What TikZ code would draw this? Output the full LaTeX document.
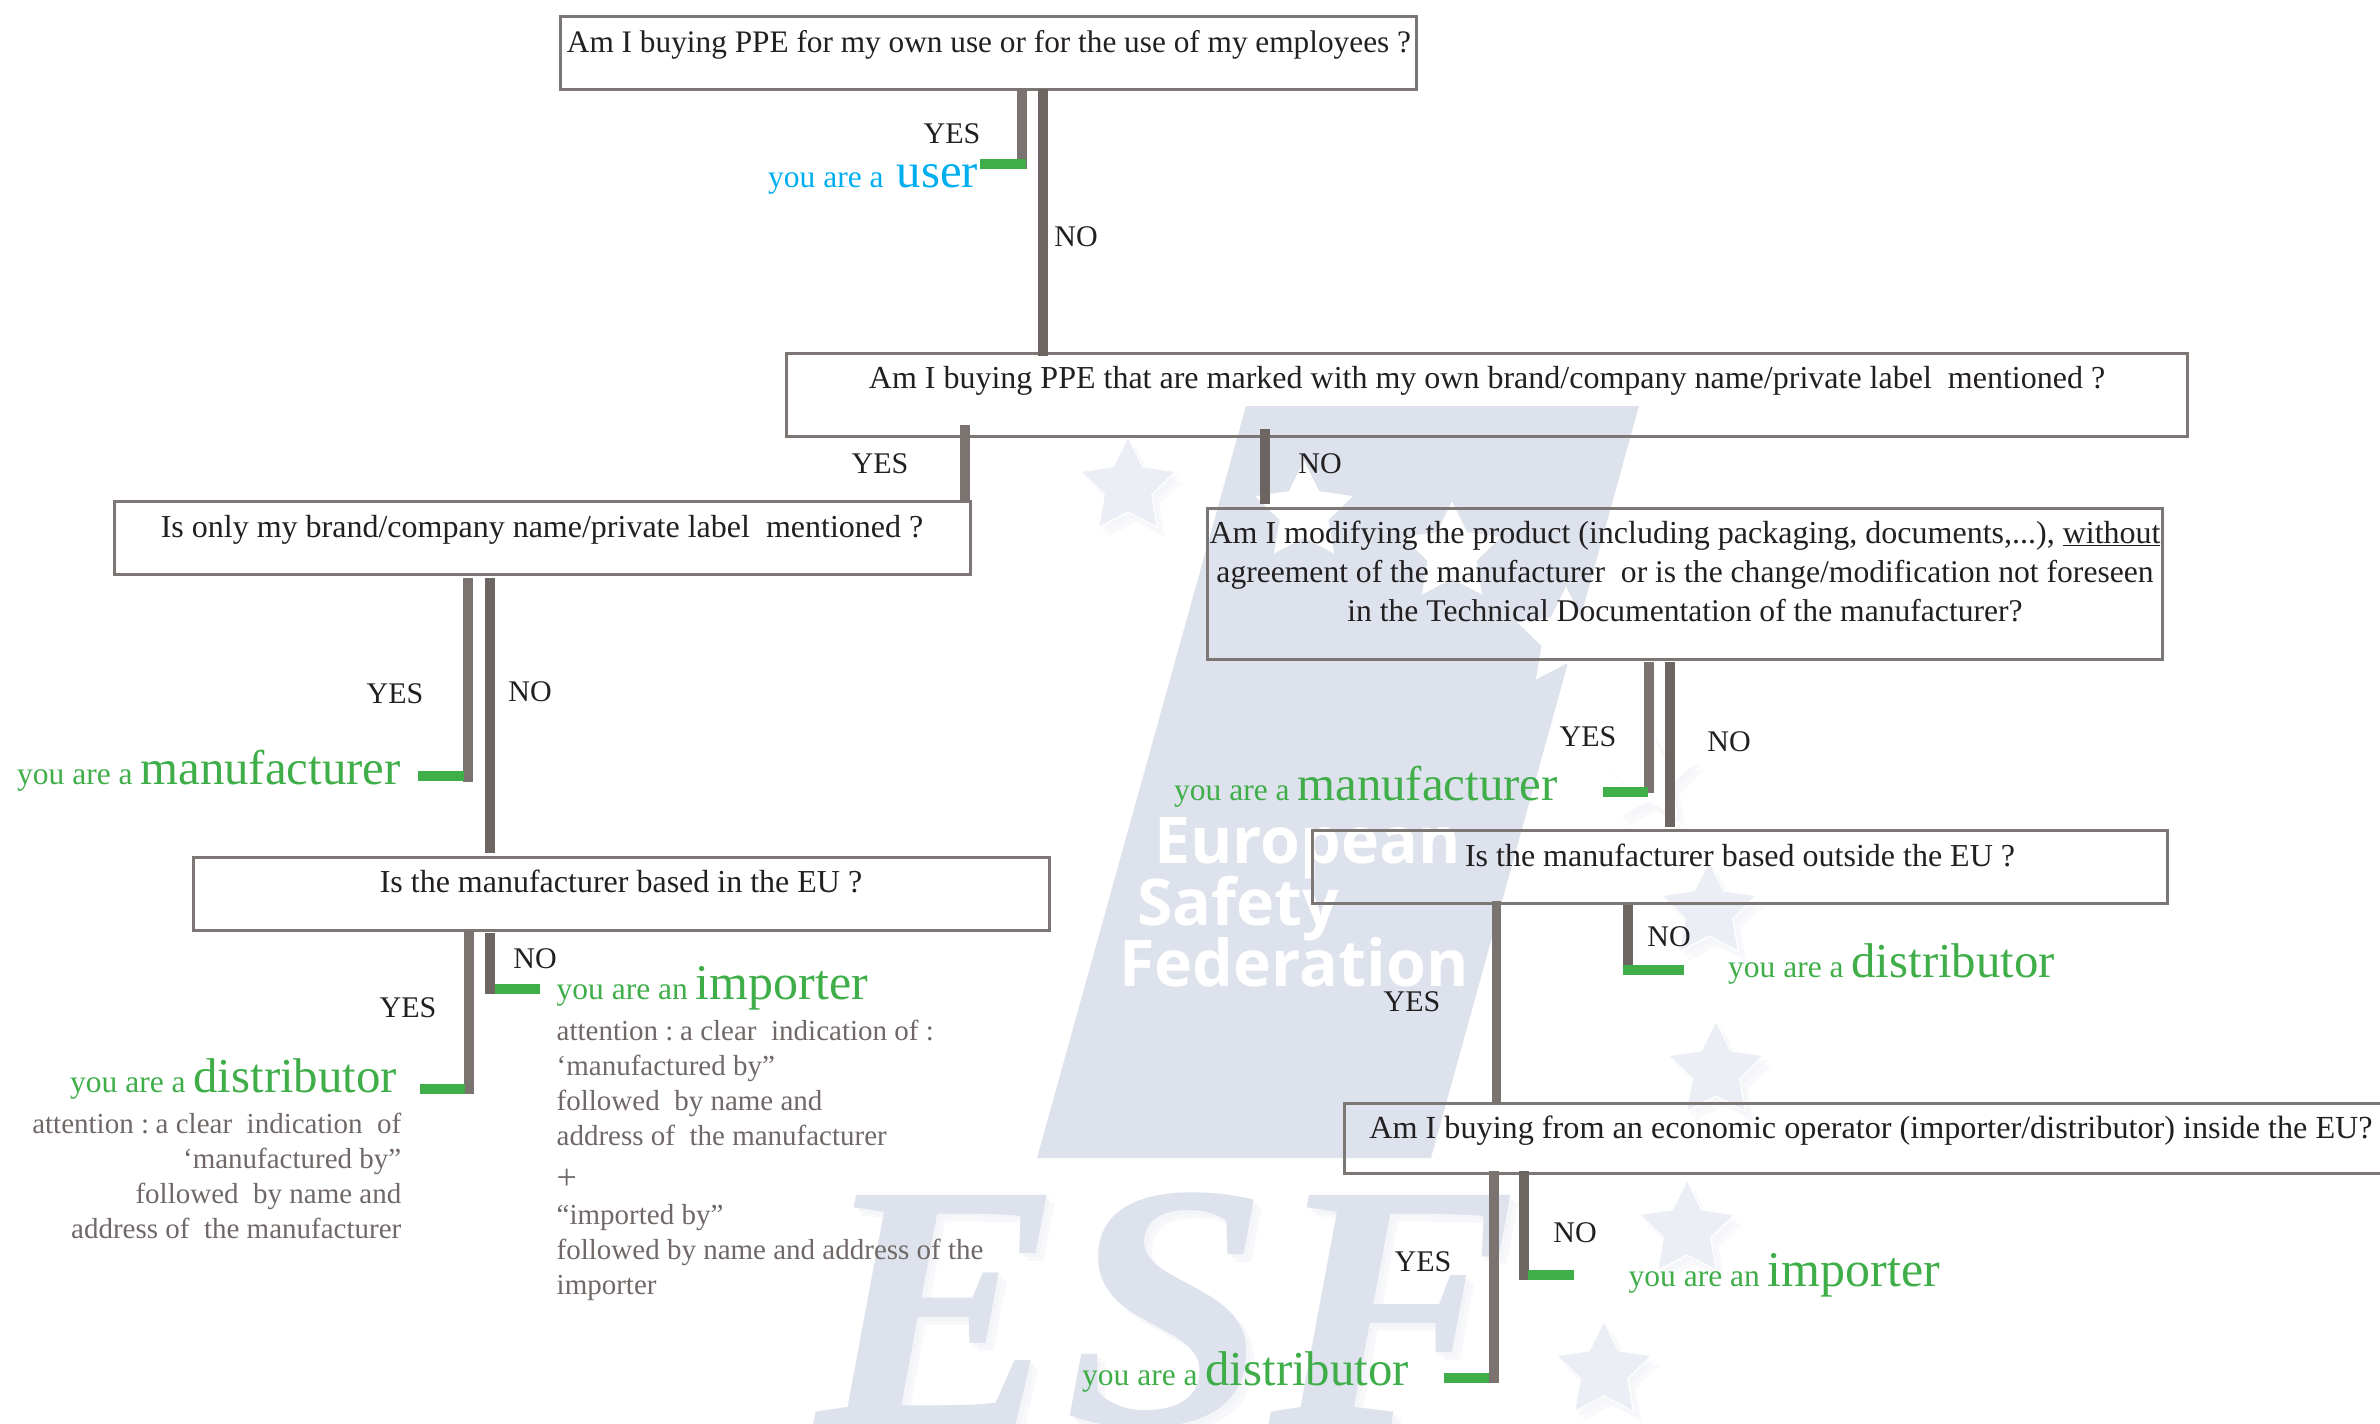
\documentclass[tikz,border=0pt]{standalone}
\usepackage{fontspec}
\usepackage{graphicx}
\usetikzlibrary{shapes.geometric}
\setmainfont{Liberation Serif}
\newfontfamily\wmfont{Open Sans}
\definecolor{wm}{HTML}{DDE2EC}
\definecolor{wmstar}{HTML}{ECEEF5}
\definecolor{wmshadow}{HTML}{F1F2F7}
\definecolor{boxline}{HTML}{7C7674}
\definecolor{yesgray}{HTML}{7B7370}
\definecolor{nogray}{HTML}{6C6562}
\definecolor{stubgreen}{HTML}{3FAE49}
\definecolor{resgreen}{HTML}{3FAE49}
\definecolor{resblue}{HTML}{00AEEF}
\definecolor{notegray}{HTML}{6F6866}
\definecolor{ink}{HTML}{231F20}
\tikzset{
  qbox/.style={draw=boxline,line width=3pt,anchor=north west,inner sep=0pt,outer sep=0pt},
  qtext/.style={anchor=base,inner sep=0pt,text=ink,font=\fontsize{32}{39}\selectfont},
  yn/.style={anchor=base,inner sep=0pt,text=ink,font=\fontsize{30}{36}\selectfont},
  res/.style={anchor=base west,inner sep=0pt,text=resgreen,font=\fontsize{31.5}{36}\selectfont},
  note/.style={inner sep=0pt,text=notegray,font=\fontsize{29}{35}\selectfont},
  yesbar/.style={draw=yesgray,line width=9.5pt},
  nobar/.style={draw=nogray,line width=10pt},
  stub/.style={draw=stubgreen,line width=10pt},
  wmstarnode/.style={star,star points=5,star point ratio=2.0,minimum size=100pt,inner sep=0pt,fill=#1,draw=white,line width=1.2pt},
  wmshade/.style={star,star points=5,star point ratio=2.0,minimum size=100pt,inner sep=0pt,fill=wmshadow,opacity=.45},
  esftext/.style={anchor=base west,inner sep=0pt,font=\bfseries\itshape\fontsize{350}{350}\selectfont},
  wmtext/.style={anchor=base west,inner sep=0pt,text=white,font=\wmfont\bfseries\fontsize{64.5}{66}\selectfont},
}
\newcommand{\rbig}[1]{{\fontsize{48.8}{52}\selectfont #1}}
\newcommand{\rimp}[1]{{\fontsize{50}{52}\selectfont #1}}
\begin{document}
\begin{tikzpicture}[x=1pt,y=-1pt]
\useasboundingbox (0,0) rectangle (2380,1424);
\clip (0,0) rectangle (2380,1424);
% --- watermark ---
\fill[wm] (1246,406) -- (1639,406) -- (1431,1158) -- (1037,1158) -- cycle;
\node[esftext,text=wmshadow,opacity=.5] (esfs) at (824,1432) {\scalebox{1.06}[1]{ESF}};
\node[esftext,text=wmshadow,opacity=.6] (esft) at (820,1428) {\scalebox{1.06}[1]{ESF}};
\node[esftext,text=wm] (esf) at (816,1424) {\scalebox{1.06}[1]{ESF}};
\foreach \n/\x/\y in {a/1128/487,f/1709/911,g/1716/1071,h/1687/1230,i/1604/1371,e/1648/776}{
  \node[wmshade,name=shb\n] at (\x+8,\y+10) {};
  \node[wmshade,name=sha\n] at (\x+4,\y+5) {};
}
\foreach \n/\x/\y in {a/1128/487,f/1709/911,g/1716/1071,h/1687/1230,i/1604/1371}{
  \node[wmstarnode=wmstar,name=st\n] at (\x,\y) {};
}
\foreach \n/\x/\y in {b/1304/512,c/1452/553,d/1566/638,e/1648/776}{
  \node[wmstarnode=white,name=st\n] at (\x,\y) {};
}
\node[wmtext] (eu1) at (1154,863) {European};
\node[wmtext] (eu2) at (1137,925) {Safety};
\node[wmtext] (eu3) at (1119,986) {Federation};
% --- question boxes ---
\node[qbox,minimum width=856pt,minimum height=73pt] (b1) at (560,16) {};
\node[qbox,minimum width=1401pt,minimum height=83pt] (b2) at (786,353) {};
\node[qbox,minimum width=856pt,minimum height=73pt] (b3) at (114,501) {};
\node[qbox,minimum width=955pt,minimum height=151pt] (b4) at (1207,508) {};
\node[qbox,minimum width=856pt,minimum height=73pt] (b5) at (193,857) {};
\node[qbox,minimum width=855pt,minimum height=73pt] (b6) at (1312,830) {};
\node[qbox,minimum width=1054pt,minimum height=70pt] (b7) at (1344,1103) {};
% --- question texts ---
\node[qtext,font=\fontsize{31.3}{39}\selectfont] (t1) at (989,52) {Am I buying PPE for my own use or for the use of my employees ?};
\node[qtext] (t2) at (1487,388) {Am I buying PPE that are marked with my own brand/company name/private label\ \ mentioned ?};
\node[qtext] (t3) at (542,537) {Is only my brand/company name/private label\ \ mentioned ?};
\node[qtext,anchor=north,align=center] (t4) at (1685,521) {Am I modifying the product (including packaging, documents,...), \underline{without}\\{\fontsize{31.6}{39}\selectfont agreement of the manufacturer\ \ or is the change/modification not foreseen}\\{\fontsize{31.6}{39}\selectfont in the Technical Documentation of the manufacturer?}};
\node[qtext] (t5) at (621,892) {Is the manufacturer based in the EU ?};
\node[qtext] (t6) at (1740,866.5) {Is the manufacturer based outside the EU ?};
\node[qtext,font=\fontsize{32.2}{39}\selectfont] (t7) at (1871,1138.5) {Am I buying from an economic operator (importer/distributor) inside the EU?};
% --- connector corners ---
\coordinate (k1y) at (1022,169);
\coordinate (k1n) at (1043,356);
\coordinate (k2y) at (965,501);
\coordinate (k2n) at (1265,504);
\coordinate (k3y) at (468,782);
\coordinate (k3n) at (490,853);
\coordinate (k5y) at (469,1094);
\coordinate (k5n) at (490,994);
\coordinate (k4y) at (1649,793);
\coordinate (k4n) at (1670,827);
\coordinate (k6y) at (1496.5,1103);
\coordinate (k6n) at (1628,971);
\coordinate (k7y) at (1494,1383);
\coordinate (k7n) at (1524,1280);
% --- connectors ---
\draw[yesbar] (b1.south -| k1y) -- (k1y);
\draw[nobar] (b1.south -| k1n) -- (k1n);
\draw[yesbar] ([yshift=11pt]b2.south -| k2y) -- (k2y);
\draw[nobar] ([yshift=7pt]b2.south -| k2n) -- (k2n);
\draw[yesbar] ([yshift=-4pt]b3.south -| k3y) -- (k3y);
\draw[nobar] ([yshift=-4pt]b3.south -| k3n) -- (k3n);
\draw[yesbar] (b5.south -| k5y) -- (k5y);
\draw[nobar] ([yshift=-3pt]b5.south -| k5n) -- (k5n);
\draw[yesbar] ([yshift=-3pt]b4.south -| k4y) -- (k4y);
\draw[nobar] ([yshift=-3pt]b4.south -| k4n) -- (k4n);
\draw[yesbar] ([yshift=2pt]b6.south -| k6y) -- (k6y);
\draw[nobar] ([yshift=-2pt]b6.south -| k6n) -- (k6n);
\draw[yesbar] ([yshift=2pt]b7.south -| k7y) -- (k7y);
\draw[nobar] ([yshift=2pt]b7.south -| k7n) -- (k7n);
% --- green stubs ---
\coordinate (g1a) at (980,164);  \coordinate (g1b) at (1026,164);
\coordinate (g3a) at (418,776);  \coordinate (g3b) at (464,776);
\coordinate (g5a) at (420,1089); \coordinate (g5b) at (465,1089);
\coordinate (g5c) at (495,989);  \coordinate (g5d) at (540,989);
\coordinate (g4a) at (1603,792); \coordinate (g4b) at (1648,792);
\coordinate (g6a) at (1623,970); \coordinate (g6b) at (1684,970);
\coordinate (g7a) at (1444,1378);\coordinate (g7b) at (1489,1378);
\coordinate (g7c) at (1528,1275);\coordinate (g7d) at (1574,1275);
\draw[stub] (g1a) -- (g1b);
\draw[stub] (g3a) -- (g3b);
\draw[stub] (g5a) -- (g5b);
\draw[stub] (g5c) -- (g5d);
\draw[stub] (g4a) -- (g4b);
\draw[stub] (g6a) -- (g6b);
\draw[stub] (g7a) -- (g7b);
\draw[stub] (g7c) -- (g7d);
% --- YES / NO ---
\node[yn] (y1) at (952,143) {YES};
\node[yn] (n1) at (1076,246) {NO};
\node[yn] (y2) at (880,473) {YES};
\node[yn] (n2) at (1320,473) {NO};
\node[yn] (y3) at (395,703) {YES};
\node[yn] (n3) at (530,701) {NO};
\node[yn] (y5) at (408,1017) {YES};
\node[yn] (n5) at (535,968) {NO};
\node[yn] (y4) at (1588,746) {YES};
\node[yn] (n4) at (1729,751) {NO};
\node[yn] (y6) at (1412,1011) {YES};
\node[yn] (n6) at (1669,946) {NO};
\node[yn] (y7) at (1423,1271) {YES};
\node[yn] (n7) at (1575,1242) {NO};
% --- results ---
\node[res,text=resblue] (r1) at (768,187) {you are a \,\rbig{user}};
\node[res] (r3) at (17,784) {you are a \rbig{manufacturer}};
\node[res] (r4) at (1174,800) {you are a \rbig{manufacturer}};
\node[res] (r6) at (1728,977) {you are a \rbig{distributor}};
\node[res] (r7) at (1628.5,1286) {you are an \rimp{importer}};
\node[res] (r8) at (1082,1385) {you are a \rbig{distributor}};
\node[res] (r5) at (556.5,999) {you are an \rimp{importer}};
\node[res] (r9) at (70,1092) {you are a \rbig{distributor}};
% --- notes ---
\node[note,anchor=north east,align=right] (m1) at (401.5,1112.5) {attention :\hspace{-3pt} a clear\ \ indication\ \ of\\‘manufactured by”\\followed\ \ by name and\\address of\ \ the manufacturer};
\node[note,anchor=north west,align=left] (m2) at (556.5,1019.5) {attention :\hspace{-3pt} a clear\ \ indication of :\\‘manufactured by”\\followed\ \ by name and\\address of\ \ the manufacturer\\[9pt]{\fontsize{36}{35}\selectfont +}\\[0pt]“imported by”\\followed by name and address of the\\importer};
\end{tikzpicture}
\end{document}
